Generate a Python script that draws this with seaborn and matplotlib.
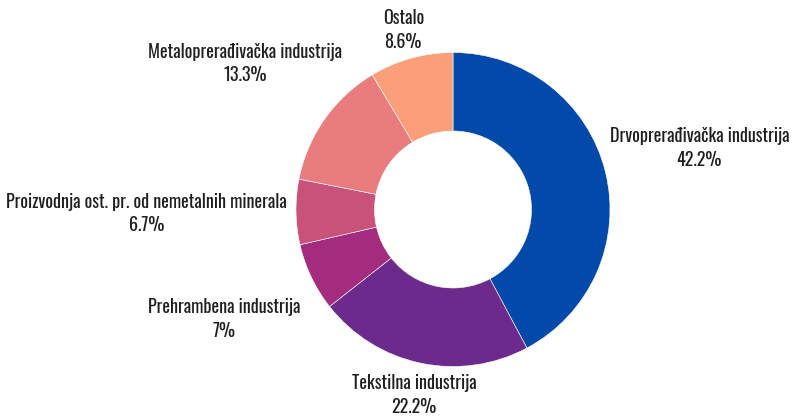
import numpy as np
import matplotlib
matplotlib.use("Agg")
import matplotlib.pyplot as plt
import seaborn as sns

# data (clockwise from 12 o'clock)
categories = [
    "Drvoprerađivačka industrija",
    "Tekstilna industrija",
    "Prehrambena industrija",
    "Proizvodnja ost. pr. od nemetalnih minerala",
    "Metaloprerađivačka industrija",
    "Ostalo",
]
shares = [42.2, 22.2, 7, 6.7, 13.3, 8.6]
pct_labels = ["42.2%", "22.2%", "7%", "6.7%", "13.3%", "8.6%"]
colors = ["#0349A9", "#6C2A8C", "#A32C7E", "#C85279", "#E97D7E", "#FB9F7A"]

sns.set_theme(style="white")
plt.rcParams["font.family"] = ["Oswald", "DejaVu Sans"]

W, H = 807, 419
fig = plt.figure(figsize=(W / 100, H / 100), dpi=100)
ax = fig.add_axes([0, 0, 1, 1])

cx, cy, R = 453, 209.5, 157
wedges, _ = ax.pie(
    shares, colors=sns.color_palette(colors), startangle=90, counterclock=False,
    center=(cx, cy), radius=R,
    wedgeprops=dict(width=R * 0.5, edgecolor="white", linewidth=0.4),
)
ax.set_xlim(0, W)
ax.set_ylim(0, H)
ax.set_aspect("equal")
ax.axis("off")

# labels sit on a ring outside the donut; pulled in along the radius
# when they would leave the canvas at the top or bottom
label_r = R + 97
y_lo, y_hi = 24, H - 30
texts = []
for w, name, pct in zip(wedges, categories, pct_labels):
    ang = np.deg2rad((w.theta1 + w.theta2) / 2)
    c, s = np.cos(ang), np.sin(ang)
    r = label_r
    dy = r * s
    if cy + dy > y_hi:
        r *= (y_hi - cy) / dy
    elif cy + dy < y_lo:
        r *= (y_lo - cy) / dy
    t = ax.text(cx + r * c, cy + r * s, f"{name}\n{pct}", ha="center", va="center",
                ma="center", fontsize=13, color="#1f1f1f", linespacing=1.38)
    texts.append((t, c))

# push labels sideways when they would run into the ring
fig.canvas.draw()
renderer = fig.canvas.get_renderer()
gap = 9
for t, c in texts:
    bb = t.get_window_extent(renderer).transformed(ax.transData.inverted())
    x, y = t.get_position()
    dy = abs(y - cy)
    if dy >= R or abs(c) < 0.4:
        continue
    half = np.sqrt(R ** 2 - dy ** 2)
    if c < 0 and bb.x1 > cx - half - gap:
        t.set_x(x - (bb.x1 - (cx - half - gap)))
    elif c > 0 and bb.x0 < cx + half + gap:
        t.set_x(x + ((cx + half + gap) - bb.x0))

fig.savefig("out.png", dpi=100)
